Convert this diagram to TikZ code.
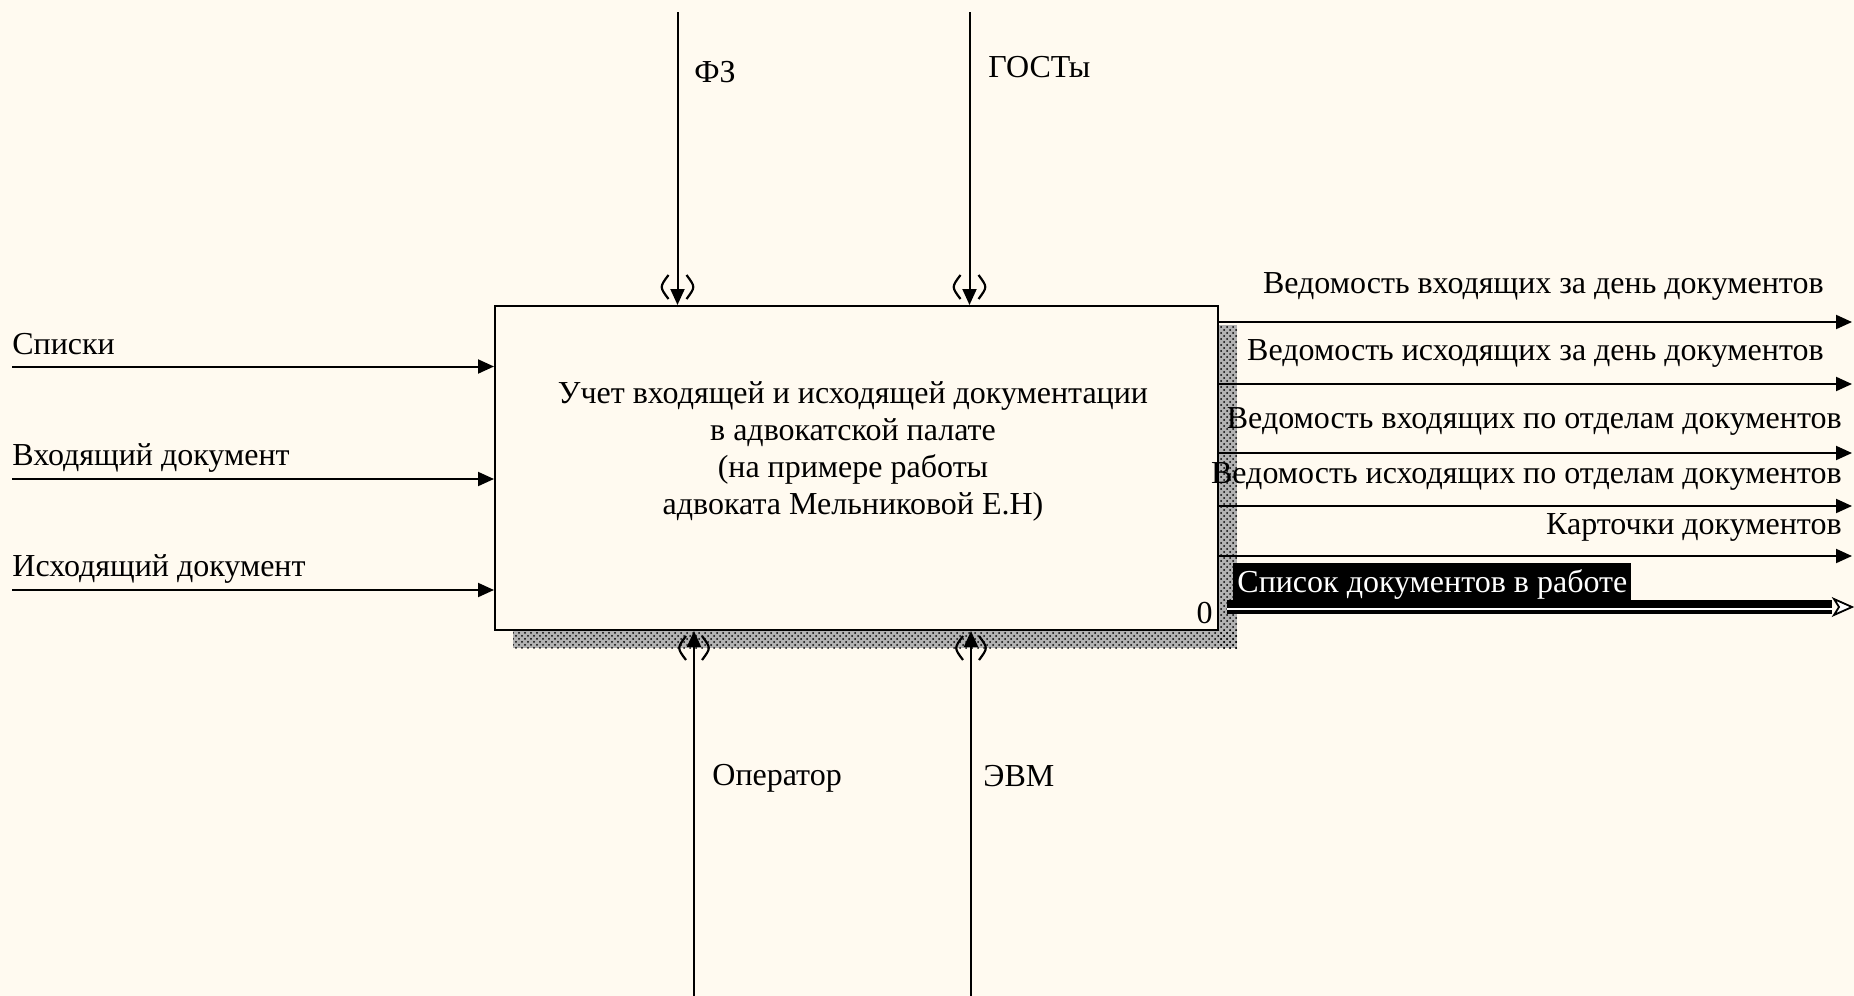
\documentclass[tikz,border=0pt]{standalone}
\usepackage{fontspec}
\setmainfont{Liberation Serif}
\usetikzlibrary{arrows.meta,patterns}
\definecolor{bgc}{RGB}{255,250,240}
\begin{document}
\begin{tikzpicture}[x=0.5pt,y=-0.5pt,
  font=\fontsize{16}{18.5}\selectfont,
  arrow/.style={line width=1pt,-{Triangle[length=8pt,width=7pt]}},
  lbl/.style={inner sep=0pt},
  paren/.style={line width=1.1pt},
  shadowfill/.style={pattern=crosshatch dots, pattern color=black},
]
\fill[bgc] (0,0) rectangle (1854,996);
\useasboundingbox (0,0) rectangle (1854,996);
% shadow
\fill[black!30] (1218,325) rectangle (1237,648);
\fill[black!30] (513,630) rectangle (1237,648);
\fill[shadowfill] (1218,325) rectangle (1237,648);
\fill[shadowfill] (513,630) rectangle (1237,648);
% activity box
\node[draw, line width=1pt, fill=bgc, minimum width=361.5pt, minimum height=162pt,
      inner sep=0pt] (act) at (856.5,468) {};
\node[align=center, inner sep=0pt] (acttext) at (853,451)
  {Учет входящей и исходящей документации\\в адвокатской палате\\(на примере работы\\адвоката Мельниковой Е.Н)};
\node[lbl, anchor=south east] (num) at (1213,624) {0};
% controls (top)
\coordinate (fz) at (677.5,12);
\coordinate (gost) at (969.5,12);
\draw[arrow] (fz) -- (fz |- act.north);
\draw[arrow] (gost) -- (gost |- act.north);
\foreach \c in {fz,gost}{
  \draw[paren] ([xshift=-4.5pt]\c |- 0,275) .. controls ([xshift=-9pt]\c |- 0,287) .. ([xshift=-4.5pt]\c |- 0,299);
  \draw[paren] ([xshift=4.5pt]\c |- 0,275) .. controls ([xshift=9pt]\c |- 0,287) .. ([xshift=4.5pt]\c |- 0,299);
}
\node[lbl, anchor=west] (lfz) at (694,72) {ФЗ};
\node[lbl, anchor=west] (lgost) at (988,67) {ГОСТы};
% mechanisms (bottom)
\coordinate (oper) at (694,996);
\coordinate (evm) at (971,996);
\draw[arrow] (oper) -- (oper |- act.south);
\draw[arrow] (evm) -- (evm |- act.south);
\foreach \c in {oper,evm}{
  \draw[paren] ([xshift=-4pt]\c |- 0,636) .. controls ([xshift=-8.5pt]\c |- 0,648) .. ([xshift=-4pt]\c |- 0,660);
  \draw[paren] ([xshift=4pt]\c |- 0,636) .. controls ([xshift=8.5pt]\c |- 0,648) .. ([xshift=4pt]\c |- 0,660);
}
\node[lbl, anchor=west] (loper) at (712,778) {Оператор};
\node[lbl, anchor=west] (levm) at (983,776) {ЭВМ};
% inputs
\coordinate (in1) at (12,366.5);
\coordinate (in2) at (12,479);
\coordinate (in3) at (12,590);
\foreach \c in {in1,in2,in3}{\draw[arrow] (\c) -- (\c -| act.west);}
\node[lbl, anchor=west] (lin1) at (12,344) {Списки};
\node[lbl, anchor=west] (lin2) at (12,457.5) {Входящий документ};
\node[lbl, anchor=west] (lin3) at (12,569) {Исходящий документ};
% outputs
\coordinate (out1) at (1852,322);
\coordinate (out2) at (1852,384);
\coordinate (out3) at (1852,453);
\coordinate (out4) at (1852,506);
\coordinate (out5) at (1852,556);
\foreach \c in {out1,out2,out3,out4,out5}{\draw[arrow] (\c -| act.east) -- (\c);}
\node[lbl, anchor=east] (lout1) at (1824,286) {Ведомость входящих за день документов};
\node[lbl, anchor=east] (lout2) at (1824,353) {Ведомость исходящих за день документов};
\node[lbl, anchor=east] (lout3) at (1842,421) {Ведомость входящих по отделам документов};
\node[lbl, anchor=east] (lout4) at (1842,476) {Ведомость исходящих по отделам документов};
\node[lbl, anchor=east] (lout5) at (1842,527) {Карточки документов};
% selected output
\coordinate (out6) at (1832,607);
\draw[line width=7pt] ([xshift=4pt]out6 -| act.east) -- (out6);
\draw[line width=1.3pt, white] ([xshift=4pt]out6 -| act.east) ++(0,2) -- ([yshift=-1pt]out6);
\draw[line width=0.9pt, fill=white] ([xshift=1pt]out6) ++(0,-8) -- ++(18,8) -- ++(-18,8) -- ++(5,-8) -- cycle;
\node[fill=black, text=white, inner xsep=2pt, inner ysep=3pt, anchor=west] (lout6) at (1233,584) {Список документов в работе};
\end{tikzpicture}
\end{document}
